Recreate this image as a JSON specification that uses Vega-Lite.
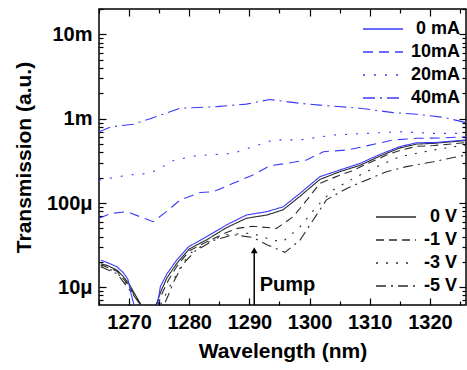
{
  "$schema": "https://vega.github.io/schema/vega-lite/v6.json",
  "width": 367,
  "height": 296,
  "autosize": {"type": "none"},
  "padding": {"left": 99, "top": 9, "right": 1, "bottom": 65},
  "config": {
    "view": {"stroke": "black", "strokeWidth": 1.5},
    "font": "Liberation Sans",
    "axis": {"labelFont": "Liberation Sans", "titleFont": "Liberation Sans", "labelFontWeight": "bold", "titleFontWeight": "bold", "labelColor": "black", "titleColor": "black", "tickColor": "black", "labelFontSize": 20, "titleFontSize": 21, "grid": false, "domain": false, "tickWidth": 1.2}
  },
  "datasets": {
    "blue": [
      {"wl": 1265.3, "t": 2.1e-5, "current": "0 mA"},
      {"wl": 1266.5, "t": 1.95e-5, "current": "0 mA"},
      {"wl": 1268, "t": 1.75e-5, "current": "0 mA"},
      {"wl": 1269, "t": 1.5e-5, "current": "0 mA"},
      {"wl": 1269.8, "t": 1.25e-5, "current": "0 mA"},
      {"wl": 1270.4, "t": 8e-6, "current": "0 mA"},
      {"wl": 1271, "t": 5.5e-6, "current": "0 mA"},
      {"wl": 1274.6, "t": 5.5e-6, "current": "0 mA"},
      {"wl": 1275.2, "t": 1.02e-5, "current": "0 mA"},
      {"wl": 1276.3, "t": 1.45e-5, "current": "0 mA"},
      {"wl": 1277.9, "t": 2.1e-5, "current": "0 mA"},
      {"wl": 1279.9, "t": 3.03e-5, "current": "0 mA"},
      {"wl": 1282.9, "t": 3.99e-5, "current": "0 mA"},
      {"wl": 1286.2, "t": 5.5e-5, "current": "0 mA"},
      {"wl": 1289.5, "t": 7.2e-5, "current": "0 mA"},
      {"wl": 1292.9, "t": 7.9e-5, "current": "0 mA"},
      {"wl": 1295.6, "t": 9.0e-5, "current": "0 mA"},
      {"wl": 1298.4, "t": 1.3e-4, "current": "0 mA"},
      {"wl": 1301.7, "t": 2.05e-4, "current": "0 mA"},
      {"wl": 1305, "t": 2.46e-4, "current": "0 mA"},
      {"wl": 1308.4, "t": 2.95e-4, "current": "0 mA"},
      {"wl": 1311.7, "t": 3.77e-4, "current": "0 mA"},
      {"wl": 1315, "t": 4.66e-4, "current": "0 mA"},
      {"wl": 1317.8, "t": 5.19e-4, "current": "0 mA"},
      {"wl": 1320.6, "t": 5.2e-4, "current": "0 mA"},
      {"wl": 1326, "t": 5.6e-4, "current": "0 mA"},

      {"wl": 1265, "t": 6.6e-5, "current": "10mA"},
      {"wl": 1267, "t": 7.5e-5, "current": "10mA"},
      {"wl": 1269.6, "t": 7.9e-5, "current": "10mA"},
      {"wl": 1272, "t": 6.8e-5, "current": "10mA"},
      {"wl": 1274, "t": 6.0e-5, "current": "10mA"},
      {"wl": 1276.3, "t": 8.0e-5, "current": "10mA"},
      {"wl": 1278.5, "t": 1.09e-4, "current": "10mA"},
      {"wl": 1281.8, "t": 1.33e-4, "current": "10mA"},
      {"wl": 1284, "t": 1.36e-4, "current": "10mA"},
      {"wl": 1287.3, "t": 1.71e-4, "current": "10mA"},
      {"wl": 1290.6, "t": 2.15e-4, "current": "10mA"},
      {"wl": 1293.4, "t": 2.77e-4, "current": "10mA"},
      {"wl": 1296.2, "t": 2.95e-4, "current": "10mA"},
      {"wl": 1299.5, "t": 3.24e-4, "current": "10mA"},
      {"wl": 1302.3, "t": 4.06e-4, "current": "10mA"},
      {"wl": 1306.2, "t": 4.25e-4, "current": "10mA"},
      {"wl": 1308.9, "t": 4.66e-4, "current": "10mA"},
      {"wl": 1313.9, "t": 5.6e-4, "current": "10mA"},
      {"wl": 1317.8, "t": 5.85e-4, "current": "10mA"},
      {"wl": 1322, "t": 5.9e-4, "current": "10mA"},
      {"wl": 1326, "t": 6.1e-4, "current": "10mA"},

      {"wl": 1265, "t": 1.87e-4, "current": "20mA"},
      {"wl": 1270, "t": 2.15e-4, "current": "20mA"},
      {"wl": 1273.5, "t": 2.25e-4, "current": "20mA"},
      {"wl": 1275.2, "t": 2.6e-4, "current": "20mA"},
      {"wl": 1277.4, "t": 3.2e-4, "current": "20mA"},
      {"wl": 1281.2, "t": 3.64e-4, "current": "20mA"},
      {"wl": 1287.3, "t": 3.88e-4, "current": "20mA"},
      {"wl": 1290.6, "t": 4.65e-4, "current": "20mA"},
      {"wl": 1294, "t": 5.6e-4, "current": "20mA"},
      {"wl": 1298.4, "t": 5.6e-4, "current": "20mA"},
      {"wl": 1303.9, "t": 6.4e-4, "current": "20mA"},
      {"wl": 1309.5, "t": 6.7e-4, "current": "20mA"},
      {"wl": 1315, "t": 7.0e-4, "current": "20mA"},
      {"wl": 1320.6, "t": 6.7e-4, "current": "20mA"},
      {"wl": 1326, "t": 6.7e-4, "current": "20mA"},

      {"wl": 1265, "t": 7.0e-4, "current": "40mA"},
      {"wl": 1267, "t": 8.0e-4, "current": "40mA"},
      {"wl": 1270.7, "t": 8.6e-4, "current": "40mA"},
      {"wl": 1273.5, "t": 1.0e-3, "current": "40mA"},
      {"wl": 1278.5, "t": 1.33e-3, "current": "40mA"},
      {"wl": 1284.6, "t": 1.39e-3, "current": "40mA"},
      {"wl": 1289.5, "t": 1.49e-3, "current": "40mA"},
      {"wl": 1293.4, "t": 1.69e-3, "current": "40mA"},
      {"wl": 1298.4, "t": 1.52e-3, "current": "40mA"},
      {"wl": 1301.7, "t": 1.45e-3, "current": "40mA"},
      {"wl": 1308.4, "t": 1.33e-3, "current": "40mA"},
      {"wl": 1313.9, "t": 1.18e-3, "current": "40mA"},
      {"wl": 1317.8, "t": 1.13e-3, "current": "40mA"},
      {"wl": 1322.2, "t": 1.04e-3, "current": "40mA"},
      {"wl": 1326, "t": 9.0e-4, "current": "40mA"}
    ],
    "black": [
      {"wl": 1265.3, "t": 1.9e-5, "bias": "0 V"},
      {"wl": 1266.5, "t": 1.8e-5, "bias": "0 V"},
      {"wl": 1268, "t": 1.6e-5, "bias": "0 V"},
      {"wl": 1269, "t": 1.35e-5, "bias": "0 V"},
      {"wl": 1270, "t": 1.1e-5, "bias": "0 V"},
      {"wl": 1271, "t": 8.2e-6, "bias": "0 V"},
      {"wl": 1272, "t": 6.2e-6, "bias": "0 V"},
      {"wl": 1272.5, "t": 5.5e-6, "bias": "0 V"},
      {"wl": 1274, "t": 5.5e-6, "bias": "0 V"},
      {"wl": 1274.6, "t": 6.5e-6, "bias": "0 V"},
      {"wl": 1275.3, "t": 9.0e-6, "bias": "0 V"},
      {"wl": 1276.3, "t": 1.3e-5, "bias": "0 V"},
      {"wl": 1278, "t": 1.95e-5, "bias": "0 V"},
      {"wl": 1280, "t": 2.85e-5, "bias": "0 V"},
      {"wl": 1283, "t": 3.7e-5, "bias": "0 V"},
      {"wl": 1286.2, "t": 5.1e-5, "bias": "0 V"},
      {"wl": 1289.5, "t": 6.6e-5, "bias": "0 V"},
      {"wl": 1292.9, "t": 7.2e-5, "bias": "0 V"},
      {"wl": 1295.6, "t": 8.3e-5, "bias": "0 V"},
      {"wl": 1298.4, "t": 1.2e-4, "bias": "0 V"},
      {"wl": 1301.7, "t": 1.9e-4, "bias": "0 V"},
      {"wl": 1305, "t": 2.35e-4, "bias": "0 V"},
      {"wl": 1308.4, "t": 2.8e-4, "bias": "0 V"},
      {"wl": 1311.7, "t": 3.6e-4, "bias": "0 V"},
      {"wl": 1315, "t": 4.5e-4, "bias": "0 V"},
      {"wl": 1317.8, "t": 5.0e-4, "bias": "0 V"},
      {"wl": 1320.6, "t": 5.1e-4, "bias": "0 V"},
      {"wl": 1326, "t": 5.5e-4, "bias": "0 V"},

      {"wl": 1265.3, "t": 1.85e-5, "bias": "-1 V"},
      {"wl": 1268, "t": 1.55e-5, "bias": "-1 V"},
      {"wl": 1270, "t": 1.05e-5, "bias": "-1 V"},
      {"wl": 1271, "t": 7.8e-6, "bias": "-1 V"},
      {"wl": 1272, "t": 6.0e-6, "bias": "-1 V"},
      {"wl": 1274.5, "t": 5.5e-6, "bias": "-1 V"},
      {"wl": 1275.5, "t": 8.5e-6, "bias": "-1 V"},
      {"wl": 1276.5, "t": 1.2e-5, "bias": "-1 V"},
      {"wl": 1278, "t": 1.8e-5, "bias": "-1 V"},
      {"wl": 1280, "t": 2.7e-5, "bias": "-1 V"},
      {"wl": 1283, "t": 3.5e-5, "bias": "-1 V"},
      {"wl": 1286, "t": 4.4e-5, "bias": "-1 V"},
      {"wl": 1288, "t": 5.0e-5, "bias": "-1 V"},
      {"wl": 1290.5, "t": 5.3e-5, "bias": "-1 V"},
      {"wl": 1294.5, "t": 5.0e-5, "bias": "-1 V"},
      {"wl": 1297.3, "t": 6.9e-5, "bias": "-1 V"},
      {"wl": 1300, "t": 1.19e-4, "bias": "-1 V"},
      {"wl": 1301.7, "t": 1.71e-4, "bias": "-1 V"},
      {"wl": 1304, "t": 2.0e-4, "bias": "-1 V"},
      {"wl": 1307, "t": 2.4e-4, "bias": "-1 V"},
      {"wl": 1309.5, "t": 2.9e-4, "bias": "-1 V"},
      {"wl": 1312.8, "t": 3.7e-4, "bias": "-1 V"},
      {"wl": 1315, "t": 4.2e-4, "bias": "-1 V"},
      {"wl": 1317.8, "t": 4.7e-4, "bias": "-1 V"},
      {"wl": 1320.6, "t": 4.8e-4, "bias": "-1 V"},
      {"wl": 1326, "t": 5.2e-4, "bias": "-1 V"},

      {"wl": 1265.3, "t": 1.8e-5, "bias": "-3 V"},
      {"wl": 1268, "t": 1.5e-5, "bias": "-3 V"},
      {"wl": 1270, "t": 1.0e-5, "bias": "-3 V"},
      {"wl": 1271.5, "t": 7.0e-6, "bias": "-3 V"},
      {"wl": 1272.5, "t": 5.8e-6, "bias": "-3 V"},
      {"wl": 1275, "t": 5.8e-6, "bias": "-3 V"},
      {"wl": 1276, "t": 8.0e-6, "bias": "-3 V"},
      {"wl": 1277, "t": 1.1e-5, "bias": "-3 V"},
      {"wl": 1278.5, "t": 1.7e-5, "bias": "-3 V"},
      {"wl": 1280, "t": 2.5e-5, "bias": "-3 V"},
      {"wl": 1283, "t": 3.4e-5, "bias": "-3 V"},
      {"wl": 1286, "t": 4.2e-5, "bias": "-3 V"},
      {"wl": 1290.3, "t": 4.4e-5, "bias": "-3 V"},
      {"wl": 1294, "t": 3.6e-5, "bias": "-3 V"},
      {"wl": 1295.6, "t": 3.5e-5, "bias": "-3 V"},
      {"wl": 1298.4, "t": 5.2e-5, "bias": "-3 V"},
      {"wl": 1301.2, "t": 9.1e-5, "bias": "-3 V"},
      {"wl": 1303.9, "t": 1.43e-4, "bias": "-3 V"},
      {"wl": 1307.3, "t": 1.96e-4, "bias": "-3 V"},
      {"wl": 1310.6, "t": 2.58e-4, "bias": "-3 V"},
      {"wl": 1315, "t": 3.54e-4, "bias": "-3 V"},
      {"wl": 1320.6, "t": 4.25e-4, "bias": "-3 V"},
      {"wl": 1326, "t": 4.9e-4, "bias": "-3 V"},

      {"wl": 1265.3, "t": 1.75e-5, "bias": "-5 V"},
      {"wl": 1268, "t": 1.45e-5, "bias": "-5 V"},
      {"wl": 1270, "t": 9.5e-6, "bias": "-5 V"},
      {"wl": 1271.5, "t": 6.8e-6, "bias": "-5 V"},
      {"wl": 1272.5, "t": 5.5e-6, "bias": "-5 V"},
      {"wl": 1275.5, "t": 5.5e-6, "bias": "-5 V"},
      {"wl": 1276.5, "t": 8.0e-6, "bias": "-5 V"},
      {"wl": 1277.5, "t": 1.2e-5, "bias": "-5 V"},
      {"wl": 1279, "t": 1.9e-5, "bias": "-5 V"},
      {"wl": 1281, "t": 2.7e-5, "bias": "-5 V"},
      {"wl": 1284, "t": 3.6e-5, "bias": "-5 V"},
      {"wl": 1287.3, "t": 4.2e-5, "bias": "-5 V"},
      {"wl": 1290.6, "t": 3.9e-5, "bias": "-5 V"},
      {"wl": 1292.9, "t": 3.2e-5, "bias": "-5 V"},
      {"wl": 1295.9, "t": 2.6e-5, "bias": "-5 V"},
      {"wl": 1298.4, "t": 3.6e-5, "bias": "-5 V"},
      {"wl": 1300.6, "t": 6.3e-5, "bias": "-5 V"},
      {"wl": 1302.8, "t": 1.09e-4, "bias": "-5 V"},
      {"wl": 1306.2, "t": 1.49e-4, "bias": "-5 V"},
      {"wl": 1309.5, "t": 1.88e-4, "bias": "-5 V"},
      {"wl": 1312.8, "t": 2.35e-4, "bias": "-5 V"},
      {"wl": 1316.1, "t": 2.7e-4, "bias": "-5 V"},
      {"wl": 1320.6, "t": 3.09e-4, "bias": "-5 V"},
      {"wl": 1326, "t": 3.71e-4, "bias": "-5 V"}
    ],
    "pump": [
      {"wl": 1290.8, "lo": 6.17e-6, "hi": 2.8e-5, "tip": 2.75e-5, "label": "Pump", "ly": 1.06e-5, "lx": 1291.7}
    ]
  },
  "layer": [
    {
      "data": {"name": "black"},
      "mark": {"type": "line", "clip": true, "color": "#2a2a2a", "strokeWidth": 1.1},
      "encoding": {
        "x": {"field": "wl", "type": "quantitative", "scale": {"domain": [1265, 1326], "nice": false, "zero": false},
              "axis": {"orient": "top", "title": null, "labels": false, "values": [1265,1270,1275,1280,1285,1290,1295,1300,1305,1310,1315,1320,1325],
                       "tickSize": {"condition": {"test": "datum.value % 10 == 0", "value": -7}, "value": -4}}},
        "y": {"field": "t", "type": "quantitative", "scale": {"type": "log", "domain": [6.17e-6, 0.02], "nice": false},
              "axis": {"orient": "right", "title": null, "labels": false,
                       "values": [7e-6,8e-6,9e-6,1e-5,2e-5,3e-5,4e-5,5e-5,6e-5,7e-5,8e-5,9e-5,1e-4,2e-4,3e-4,4e-4,5e-4,6e-4,7e-4,8e-4,9e-4,1e-3,2e-3,3e-3,4e-3,5e-3,6e-3,7e-3,8e-3,9e-3,1e-2,2e-2],
                       "tickSize": {"condition": {"test": "indexof([0.00001,0.0001,0.001,0.01], datum.value) >= 0", "value": -7}, "value": -4}}},
        "strokeDash": {"field": "bias", "type": "nominal",
                       "scale": {"domain": ["0 V", "-1 V", "-3 V", "-5 V"], "range": [[1, 0], [8, 5], [2, 8], [10, 5, 2, 5]]},
                       "legend": {"title": null, "orient": "none", "legendX": 276, "legendY": 198, "padding": 0,
                                  "symbolType": "stroke", "symbolSize": 1600, "symbolStrokeWidth": 1.3, "symbolStrokeColor": "#2a2a2a",
                                  "labelFont": "Liberation Sans", "labelFontWeight": "bold", "labelFontSize": 18, "labelColor": "black",
                                  "labelAlign": "right", "labelOffset": 40, "clipHeight": 20, "rowPadding": 3}}
      }
    },
    {
      "data": {"name": "blue"},
      "mark": {"type": "line", "clip": true, "color": "#3a3aff", "strokeWidth": 1.1},
      "encoding": {
        "x": {"field": "wl", "type": "quantitative",
              "axis": {"orient": "bottom", "title": "Wavelength (nm)", "values": [1265,1270,1275,1280,1285,1290,1295,1300,1305,1310,1315,1320,1325],
                       "labelExpr": "datum.value % 10 == 0 ? datum.label : ''", "format": "d",
                       "tickSize": {"condition": {"test": "datum.value % 10 == 0", "value": -7}, "value": -4},
                       "labelPadding": 14, "titlePadding": 8}},
        "y": {"field": "t", "type": "quantitative",
              "axis": {"orient": "left", "title": "Transmission (a.u.)",
                       "values": [7e-6,8e-6,9e-6,1e-5,2e-5,3e-5,4e-5,5e-5,6e-5,7e-5,8e-5,9e-5,1e-4,2e-4,3e-4,4e-4,5e-4,6e-4,7e-4,8e-4,9e-4,1e-3,2e-3,3e-3,4e-3,5e-3,6e-3,7e-3,8e-3,9e-3,1e-2,2e-2],
                       "labelExpr": "datum.value == 0.00001 ? '10μ' : datum.value == 0.0001 ? '100μ' : datum.value == 0.001 ? '1m' : datum.value == 0.01 ? '10m' : ''",
                       "tickSize": {"condition": {"test": "indexof([0.00001,0.0001,0.001,0.01], datum.value) >= 0", "value": -7}, "value": -4},
                       "labelPadding": 14, "titlePadding": 12}},
        "strokeDash": {"field": "current", "type": "nominal",
                       "scale": {"domain": ["0 mA", "10mA", "20mA", "40mA"], "range": [[1, 0], [10, 6], [2, 9], [12, 5, 2, 5]]},
                       "legend": {"title": null, "orient": "none", "legendX": 263, "legendY": 10, "padding": 0,
                                  "symbolType": "stroke", "symbolSize": 1600, "symbolStrokeWidth": 1.3, "symbolStrokeColor": "#3a3aff",
                                  "labelFont": "Liberation Sans", "labelFontWeight": "bold", "labelFontSize": 18, "labelColor": "black",
                                  "labelAlign": "right", "labelOffset": 56, "clipHeight": 20, "rowPadding": 3}}
      }
    },
    {
      "data": {"name": "pump"},
      "mark": {"type": "rule", "color": "black", "strokeWidth": 1.5},
      "encoding": {
        "x": {"field": "wl", "type": "quantitative", "axis": null},
        "y": {"field": "lo", "type": "quantitative", "axis": null},
        "y2": {"field": "hi"}
      }
    },
    {
      "data": {"name": "pump"},
      "mark": {"type": "point", "shape": "triangle-up", "filled": true, "color": "black", "size": 45, "opacity": 1},
      "encoding": {
        "x": {"field": "wl", "type": "quantitative", "axis": null},
        "y": {"field": "tip", "type": "quantitative", "axis": null}
      }
    },
    {
      "data": {"name": "pump"},
      "mark": {"type": "text", "align": "left", "baseline": "middle", "font": "Liberation Sans", "fontWeight": "bold", "fontSize": 20, "color": "black"},
      "encoding": {
        "x": {"field": "lx", "type": "quantitative", "axis": null},
        "y": {"field": "ly", "type": "quantitative", "axis": null},
        "text": {"field": "label"}
      }
    }
  ],
  "resolve": {"scale": {"strokeDash": "independent"}, "legend": {"strokeDash": "independent"}}
}
